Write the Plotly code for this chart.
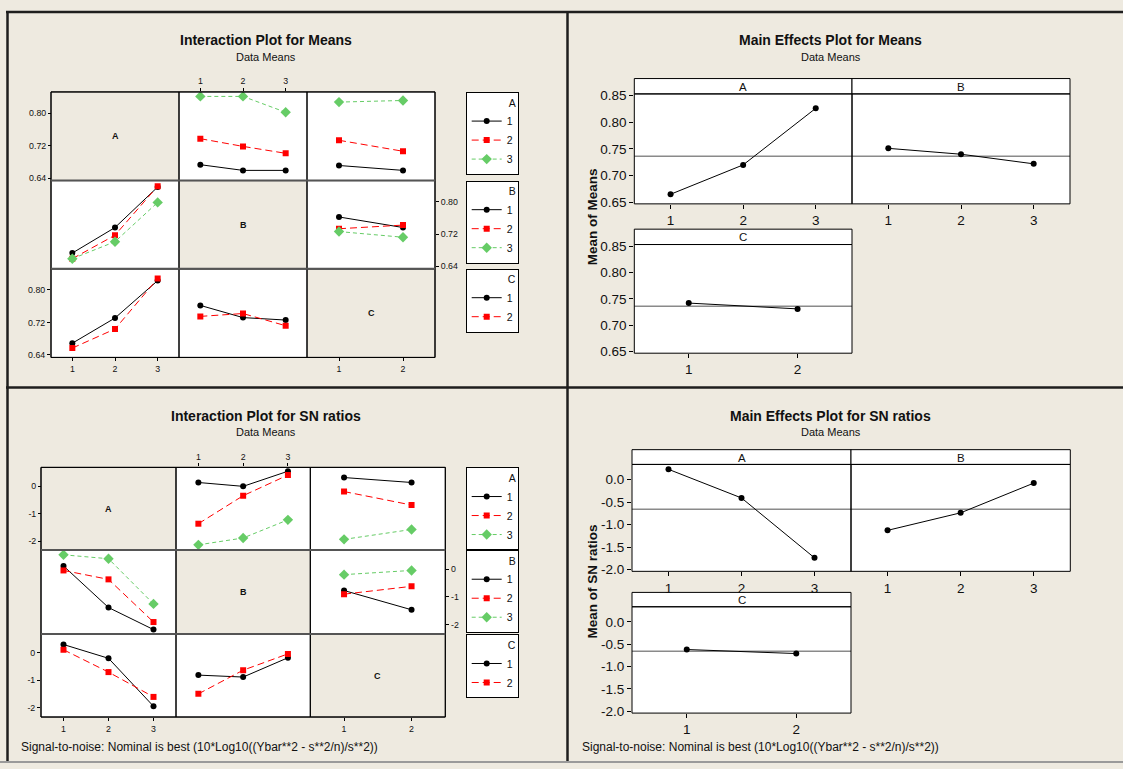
import plotly.graph_objects as go

W, H = 1123, 769
BG = "#EEEAE0"
FONT = "Liberation Sans, Arial, sans-serif"

# ---------------- data ----------------
levels3 = [1, 2, 3]
levels2 = [1, 2]
level_labels3 = ["1", "2", "3"]
level_labels2 = ["1", "2"]

# Interaction plot for Means (series level vs x factor)
means_A1_vs_B = [0.673, 0.659, 0.659]
means_A2_vs_B = [0.737, 0.718, 0.701]
means_A3_vs_B = [0.841, 0.841, 0.802]
means_A1_vs_C = [0.671, 0.659]
means_A2_vs_C = [0.733, 0.706]
means_A3_vs_C = [0.827, 0.831]
means_B1_vs_A = [0.673, 0.736, 0.836]
means_B2_vs_A = [0.659, 0.717, 0.838]
means_B3_vs_A = [0.659, 0.701, 0.798]
means_B1_vs_C = [0.762, 0.736]
means_B2_vs_C = [0.733, 0.742]
means_B3_vs_C = [0.726, 0.712]
means_C1_vs_A = [0.669, 0.731, 0.823]
means_C2_vs_A = [0.657, 0.704, 0.828]
means_C1_vs_B = [0.762, 0.732, 0.726]
means_C2_vs_B = [0.735, 0.742, 0.712]

# Interaction plot for SN ratios
sn_A1_vs_B = [0.13, -0.01, 0.54]
sn_A2_vs_B = [-1.37, -0.35, 0.40]
sn_A3_vs_B = [-2.14, -1.89, -1.23]
sn_A1_vs_C = [0.31, 0.13]
sn_A2_vs_C = [-0.20, -0.69]
sn_A3_vs_C = [-1.94, -1.58]
sn_B1_vs_A = [0.11, -1.38, -2.17]
sn_B2_vs_A = [-0.05, -0.37, -1.90]
sn_B3_vs_A = [0.51, 0.37, -1.25]
sn_B1_vs_C = [-0.77, -1.46]
sn_B2_vs_C = [-0.90, -0.62]
sn_B3_vs_C = [-0.20, -0.05]
sn_C1_vs_A = [0.30, -0.20, -1.94]
sn_C2_vs_A = [0.11, -0.70, -1.60]
sn_C1_vs_B = [-0.81, -0.88, -0.18]
sn_C2_vs_B = [-1.49, -0.63, -0.04]

# Main effects
main_means_A = [0.665, 0.720, 0.826]
main_means_B = [0.751, 0.740, 0.722]
main_means_C = [0.742, 0.731]
grand_mean_means = 0.736
main_sn_A = [0.226, -0.41, -1.74]
main_sn_B = [-1.13, -0.74, -0.08]
main_sn_C = [-0.62, -0.71]
grand_mean_sn = -0.66

# Tick values / labels
int_means_ticks = [0.64, 0.72, 0.80]
int_means_ticklabels = ["0.64", "0.72", "0.80"]
int_sn_ticks = [0, -1, -2]
int_sn_ticklabels = ["0", "-1", "-2"]
main_means_ticks = [0.65, 0.70, 0.75, 0.80, 0.85]
main_means_ticklabels = ["0.65", "0.70", "0.75", "0.80", "0.85"]
main_sn_ticks = [0.0, -0.5, -1.0, -1.5, -2.0]
main_sn_ticklabels = ["0.0", "-0.5", "-1.0", "-1.5", "-2.0"]

footer_text = "Signal-to-noise: Nominal is best (10*Log10((Ybar**2 - s**2/n)/s**2))"

# ---------------- helpers ----------------
fig = go.Figure()
layout = {}
shapes = []
annotations = []
n_axes = [0]


def X(px):
    return px / W


def Y(py):
    return 1 - py / H


def make_axes(x0, x1, y0, y1, xrange, yrange):
    n_axes[0] += 1
    n = n_axes[0]
    s = "" if n == 1 else str(n)
    common = dict(showgrid=False, zeroline=False, showline=False,
                  showticklabels=False, ticks="", fixedrange=True)
    xa = dict(domain=[X(x0), X(x1)], range=xrange, anchor="y" + s, **common)
    ya = dict(domain=[Y(y1), Y(y0)], range=yrange, anchor="x" + s, **common)
    layout["xaxis" + s] = xa
    layout["yaxis" + s] = ya
    return s, xa, ya


def ticks_on(ax, vals, text, size, side=None, free_pos=None, ticklen=3):
    ax.update(showticklabels=True, ticks="outside", ticklen=ticklen, tickwidth=1,
              tickcolor="black", tickvals=vals, ticktext=text,
              tickfont=dict(size=size, family=FONT, color="#111"))
    if side:
        ax["side"] = side
    if free_pos is not None:
        ax["anchor"] = "free"
        ax["position"] = free_pos


def rect(x0, y0, x1, y1, fill=None, color="black", width=1, layer="above"):
    shapes.append(dict(type="rect", xref="paper", yref="paper",
                       x0=X(x0), x1=X(x1), y0=Y(y1), y1=Y(y0),
                       line=dict(color=color, width=width),
                       fillcolor=fill if fill else "rgba(0,0,0,0)", layer=layer))


def hline(x0, x1, y, color, width):
    shapes.append(dict(type="line", xref="paper", yref="paper", x0=X(x0), x1=X(x1),
                       y0=Y(y), y1=Y(y), line=dict(color=color, width=width), layer="above"))


def vline(x, y0, y1, color, width):
    shapes.append(dict(type="line", xref="paper", yref="paper", x0=X(x), x1=X(x),
                       y0=Y(y0), y1=Y(y1), line=dict(color=color, width=width), layer="above"))


def text(x, y, t, size, bold=False, xanchor="center", angle=0, color="#111"):
    annotations.append(dict(x=X(x), y=Y(y), xref="paper", yref="paper",
                            text=("<b>%s</b>" % t) if bold else t, showarrow=False,
                            xanchor=xanchor, yanchor="middle", textangle=angle,
                            font=dict(size=size, family=FONT, color=color)))


STYLE = {
    1: dict(color="#000000", dash="solid", symbol="circle", size=6),
    2: dict(color="#FF0000", dash="7px,4px", symbol="square", size=6),
    3: dict(color="#66CC66", dash="4px,3px", symbol="diamond", size=8),
}


def add_series(s, xv, yv, level, legend, show):
    st = STYLE[level]
    fig.add_trace(go.Scatter(
        x=xv, y=yv, xaxis="x" + s, yaxis="y" + s, mode="lines+markers", name=str(level),
        line=dict(color=st["color"], dash=st["dash"], width=1),
        marker=dict(color=st["color"], symbol=st["symbol"], size=st["size"]),
        legend=legend, showlegend=show, hoverinfo="skip"))


def legend_cfg(title, x, y):
    return dict(x=X(x), y=Y(y), xanchor="left", yanchor="top", xref="paper", yref="paper",
                bgcolor="white", bordercolor="black", borderwidth=1,
                font=dict(size=10.5, family=FONT, color="#111"),
                title=dict(text=title, side="top right",
                           font=dict(size=10.5, family=FONT, color="#111")),
                itemwidth=30, tracegroupgap=0, itemclick=False, itemdoubleclick=False)


def interaction(cols, rows, yr, yt, ytl, cells, legends, tick_size):
    factors = ["A", "B", "C"]
    for r in range(3):
        shown = False
        for c in range(3):
            x0, x1 = cols[c], cols[c + 1]
            y0, y1 = rows[r], rows[r + 1]
            if r == c:
                rect(x0, y0, x1, y1, fill=BG, layer="below")
                text((x0 + x1) / 2, (y0 + y1) / 2, factors[r], 9, bold=True)
                continue
            xv, series = cells[(r, c)]
            s, xa, ya = make_axes(x0, x1, y0, y1, [0.5, len(xv) + 0.5], yr)
            xl = level_labels3 if len(xv) == 3 else level_labels2
            if (r, c) == (0, 1):
                ticks_on(xa, xv, xl, tick_size, side="top")
                ticks_on(ya, yt, ytl, tick_size, side="left", free_pos=X(cols[0]))
            if (r, c) == (1, 2):
                ticks_on(ya, yt, ytl, tick_size, side="right")
                ticks_on(xa, xv, xl, tick_size, side="bottom", free_pos=Y(rows[3]))
            if (r, c) == (2, 0):
                ticks_on(xa, xv, xl, tick_size, side="bottom")
                ticks_on(ya, yt, ytl, tick_size, side="left")
            for level, yv in series:
                add_series(s, xv, yv, level, legends[r], not shown)
            shown = True
            rect(x0, y0, x1, y1)
    rect(cols[0], rows[0], cols[3], rows[3])
    hline(cols[0], cols[3], rows[1], "#555", 2)
    hline(cols[0], cols[3], rows[2], "#555", 2)


def main_effects(panels, yr, yt, ytl, grand, tick_size):
    for (x0, x1, ys, y0, y1, label, yv, show_y) in panels:
        xv = levels3 if len(yv) == 3 else levels2
        xl = level_labels3 if len(yv) == 3 else level_labels2
        s, xa, ya = make_axes(x0, x1, y0, y1, [0.5, len(yv) + 0.5], yr)
        ticks_on(xa, xv, xl, tick_size, side="bottom", ticklen=4)
        if show_y:
            ticks_on(ya, yt, ytl, tick_size, side="left", ticklen=4)
        shapes.append(dict(type="line", xref="x" + s + " domain", yref="y" + s,
                           x0=0, x1=1, y0=grand, y1=grand,
                           line=dict(color="#8a8a8a", width=1.5), layer="below"))
        fig.add_trace(go.Scatter(x=xv, y=yv, xaxis="x" + s, yaxis="y" + s,
                                 mode="lines+markers", showlegend=False, hoverinfo="skip",
                                 line=dict(color="black", width=1),
                                 marker=dict(color="black", size=6, symbol="circle")))
        rect(x0, ys, x1, y0, fill="white")
        text((x0 + x1) / 2, (ys + y0) / 2 + 0.5, label, 11.5)
        rect(x0, y0, x1, y1)


# ---------------- Interaction plot for Means ----------------
im_cells = {
    (0, 1): (levels3, [(1, means_A1_vs_B), (2, means_A2_vs_B), (3, means_A3_vs_B)]),
    (0, 2): (levels2, [(1, means_A1_vs_C), (2, means_A2_vs_C), (3, means_A3_vs_C)]),
    (1, 0): (levels3, [(1, means_B1_vs_A), (2, means_B2_vs_A), (3, means_B3_vs_A)]),
    (1, 2): (levels2, [(1, means_B1_vs_C), (2, means_B2_vs_C), (3, means_B3_vs_C)]),
    (2, 0): (levels3, [(1, means_C1_vs_A), (2, means_C2_vs_A)]),
    (2, 1): (levels3, [(1, means_C1_vs_B), (2, means_C2_vs_B)]),
}
interaction([51, 179, 307, 435], [87.3, 177.3, 267, 357], [0.634, 0.852],
            int_means_ticks, int_means_ticklabels, im_cells,
            ["legend", "legend2", "legend3"], 8.8)

# ---------------- Interaction plot for SN ratios ----------------
is_cells = {
    (0, 1): (levels3, [(1, sn_A1_vs_B), (2, sn_A2_vs_B), (3, sn_A3_vs_B)]),
    (0, 2): (levels2, [(1, sn_A1_vs_C), (2, sn_A2_vs_C), (3, sn_A3_vs_C)]),
    (1, 0): (levels3, [(1, sn_B1_vs_A), (2, sn_B2_vs_A), (3, sn_B3_vs_A)]),
    (1, 2): (levels2, [(1, sn_B1_vs_C), (2, sn_B2_vs_C), (3, sn_B3_vs_C)]),
    (2, 0): (levels3, [(1, sn_C1_vs_A), (2, sn_C2_vs_A)]),
    (2, 1): (levels3, [(1, sn_C1_vs_B), (2, sn_C2_vs_B)]),
}
interaction([41, 176, 310.3, 445.3], [468.7, 552.7, 638, 722.3], [-2.33, 0.68],
            int_sn_ticks, int_sn_ticklabels, is_cells,
            ["legend4", "legend5", "legend6"], 8.8)

# ---------------- Main effects ----------------
main_effects([
    (634.3, 852, 73.7, 89.3, 201, "A", main_means_A, True),
    (852, 1070, 73.7, 89.3, 201, "B", main_means_B, False),
    (634.3, 852, 226.7, 242.3, 352.7, "C", main_means_C, True),
], [0.647, 0.853], main_means_ticks, main_means_ticklabels, grand_mean_means, 13.5)

main_effects([
    (632, 851, 450.7, 465.7, 574.3, "A", main_sn_A, True),
    (851, 1070.3, 450.7, 465.7, 574.3, "B", main_sn_B, False),
    (632, 851, 595.7, 610.3, 718.3, "C", main_sn_C, True),
], [-2.04, 0.335], main_sn_ticks, main_sn_ticklabels, grand_mean_sn, 13.5)

# ---------------- Titles & texts ----------------
text(265.7, 35, "Interaction Plot for Means", 14, bold=True)
text(265.7, 51.7, "Data Means", 11)
text(830.7, 35, "Main Effects Plot for Means", 14, bold=True)
text(830.7, 51.7, "Data Means", 11)
text(265.7, 416, "Interaction Plot for SN ratios", 14, bold=True)
text(265.7, 432.7, "Data Means", 11)
text(830.7, 416, "Main Effects Plot for SN ratios", 14, bold=True)
text(830.7, 432.7, "Data Means", 11)
text(592.7, 214, "Mean of Means", 13.5, bold=True, angle=-90)
text(592.7, 585, "Mean of SN ratios", 13.5, bold=True, angle=-90)
text(19, 753, footer_text, 12, xanchor="left")
text(580, 753, footer_text, 12, xanchor="left")

# ---------------- Panel frames ----------------
vline(7.5, 5, 769, "#1e1e1e", 2.5)
hline(6, 1123, 6, "#1e1e1e", 2.5)
vline(567.5, 6, 769, "#1e1e1e", 2.5)
hline(6, 1123, 387.5, "#1e1e1e", 2.5)
hline(0, 1123, 768, "#9a9a9a", 2)

layout.update(
    width=W, height=H, margin=dict(l=0, r=0, t=0, b=0),
    paper_bgcolor=BG, plot_bgcolor="white",
    font=dict(family=FONT, color="#111"),
    shapes=shapes, annotations=annotations, hovermode=False,
    legend=legend_cfg("A", 465.7, 87.3),
    legend2=legend_cfg("B", 465.7, 177.3),
    legend3=legend_cfg("C", 465.7, 266.7),
    legend4=legend_cfg("A", 465.7, 468.7),
    legend5=legend_cfg("B", 465.7, 552.7),
    legend6=legend_cfg("C", 465.7, 638.3),
)
fig.update_layout(**layout)
fig.write_html("out.html", config={"displayModeBar": False},
               post_script="document.body.style.margin='0';document.body.style.overflow='hidden';")
